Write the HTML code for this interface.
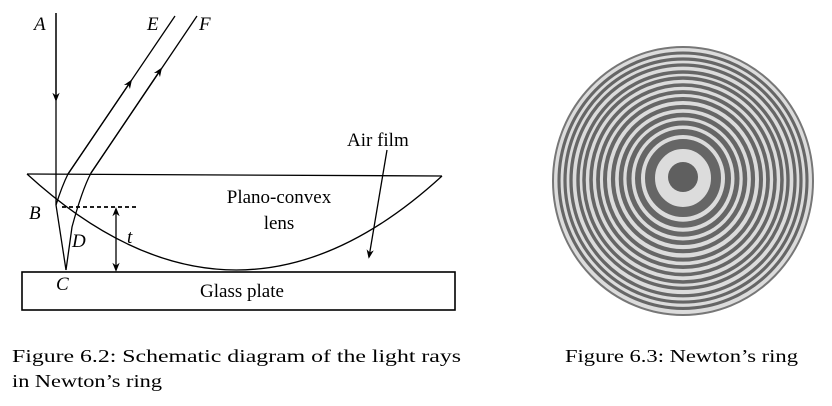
<!DOCTYPE html>
<html><head><meta charset="utf-8"><style>
html,body{margin:0;padding:0;background:#fff;}
svg{display:block;font-family:"Liberation Serif",serif;}
</style></head><body>
<svg width="832" height="406" viewBox="0 0 832 406">
<defs>
<marker id="ah" viewBox="0 0 10 10" refX="8" refY="5" markerWidth="7" markerHeight="7" orient="auto-start-reverse"><path d="M0,1 L10,5 L0,9 L3,5 Z" fill="#000"/></marker>
</defs>
<g stroke="#000" stroke-width="1.3" fill="none">
  <rect x="22" y="272" width="433" height="38" stroke-width="1.6"/>
  <path d="M27,174 L442,176"/>
  <path d="M27,174 Q236,365 442,176"/>
  <path d="M56,13 L56,205 L66,270"/>
  <path d="M56,13 L56,100" marker-end="url(#ah)"/>
  <path d="M56,205 Q62,186 68,174 L175,16"/>
  <path d="M68,174 L131,81" marker-end="url(#ah)"/>
  <path d="M66,270 L72,227 Q82,190 91,173 L197,16"/>
  <path d="M91,173 L161,69" marker-end="url(#ah)"/>
  <path d="M62,207 L137,207" stroke-dasharray="4,3" stroke-width="1.8"/>
  <path d="M116,209 L116,270" marker-start="url(#ah)" marker-end="url(#ah)"/>
  <path d="M387,150 L369,257" marker-end="url(#ah)"/>
</g>
<g font-size="19" fill="#000">
  <text x="34" y="30" font-style="italic">A</text>
  <text x="147" y="30" font-style="italic">E</text>
  <text x="199" y="30" font-style="italic">F</text>
  <text x="29" y="219" font-style="italic">B</text>
  <text x="72" y="247" font-style="italic">D</text>
  <text x="127" y="243" font-style="italic">t</text>
  <text x="56" y="290" font-style="italic">C</text>
  <text x="347" y="146">Air film</text>
  <text x="279" y="203" text-anchor="middle">Plano-convex</text>
  <text x="279" y="229" text-anchor="middle">lens</text>
  <text x="242" y="297" text-anchor="middle">Glass plate</text>
</g>
<g id="rings">
  <ellipse cx="683" cy="181" rx="130" ry="134" fill="#dcdcdc" stroke="#777" stroke-width="2"/>
</g>
<g font-size="18" fill="#000">
  <text x="12" y="362" textLength="449" lengthAdjust="spacingAndGlyphs">Figure 6.2: Schematic diagram of the light rays</text>
  <text x="12" y="387" textLength="150" lengthAdjust="spacingAndGlyphs">in Newton’s ring</text>
  <text x="565" y="362" textLength="233" lengthAdjust="spacingAndGlyphs">Figure 6.3: Newton’s ring</text>
</g>
</svg>
<script>
const ringRadii = [33,45,54,62,70,78,85,92,99,105,112,118,124];
const ringWidths = [10,6,5,4.5,4.2,4,3.8,3.6,3.5,3.4,3.3,3.2,3.1];
const g = document.getElementById('rings');
const ns = 'http://www.w3.org/2000/svg';
const dot = document.createElementNS(ns,'circle');


dot.setAttribute('cx',683);dot.setAttribute('cy',177);dot.setAttribute('r',15);dot.setAttribute('fill','#5f5f5f');
g.appendChild(dot);
ringRadii.forEach((r,i)=>{
  const c = document.createElementNS(ns,'ellipse');
  
  
  c.setAttribute('cx',683);c.setAttribute('cy',177+r*0.03);
  c.setAttribute('rx',r);c.setAttribute('ry',r*1.03);
  c.setAttribute('fill','none');c.setAttribute('stroke','#666');
  c.setAttribute('stroke-width',ringWidths[i]);
  g.appendChild(c);
});
</script>
</body></html>
